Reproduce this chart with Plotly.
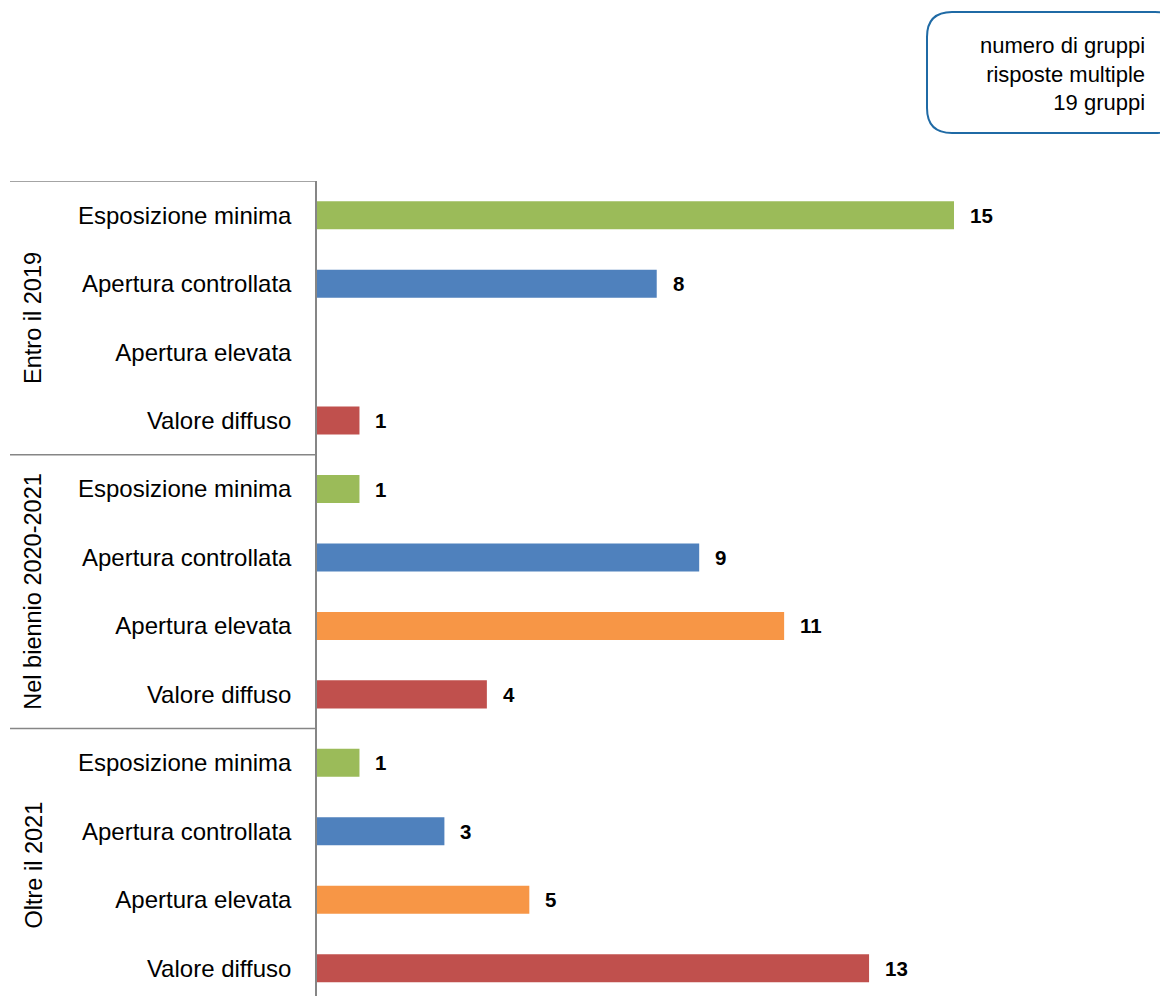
import plotly.graph_objects as go

# Survey answers: number of groups choosing each approach, per time horizon
groups = ["Entro il 2019", "Nel biennio 2020-2021", "Oltre il 2021"]
categories = ["Esposizione minima", "Apertura controllata", "Apertura elevata", "Valore diffuso"]
values_2019 = [15, 8, None, 1]
values_2020_2021 = [1, 9, 11, 4]
values_oltre_2021 = [1, 3, 5, 13]
category_colors = ["#9BBB59", "#4F81BD", "#F79646", "#C0504D"]
box_lines = ["numero di gruppi", "risposte multiple", "19 gruppi"]

series = [values_2019, values_2020_2021, values_oltre_2021]

W, H = 1160, 996
M_L, M_R, M_T, M_B = 317, 0, 181, 0
plot_w = W - M_L - M_R
plot_h = H - M_T - M_B
px_per_unit = 637 / 15.0
x_max = plot_w / px_per_unit
row_px = 68.45
y_bottom = -0.5 + plot_h / row_px

FONT = "Liberation Sans"
AXIS_GRAY = "#868686"

ys, xs, cols, tick_text = [], [], [], []
row = 0
for g, vals in zip(groups, series):
    for cat, v, c in zip(categories, vals, category_colors):
        ys.append(row)
        xs.append(v)
        cols.append(c)
        tick_text.append(cat)
        row += 1

fig = go.Figure()
fig.add_trace(go.Bar(
    x=xs, y=ys, orientation="h",
    marker=dict(color=cols, line=dict(width=0)),
    width=0.41,
    hoverinfo="x+y",
))

# value labels next to each bar
for yv, xv in zip(ys, xs):
    if xv is None:
        continue
    fig.add_annotation(
        x=xv, y=yv, xref="x", yref="y",
        text=f"<b>{xv}</b>", showarrow=False,
        xanchor="left", yanchor="middle", xshift=14,
        font=dict(family=FONT, size=20.5, color="#000000"),
    )

def px_to_paper_x(px):
    return (px - M_L) / plot_w

def px_to_paper_y(py):
    return (H - M_B - py) / plot_h

# group separators on the left of the axis
for yb in [-0.5, 3.5, 7.5]:
    fig.add_shape(
        type="line", xref="paper", yref="y",
        x0=px_to_paper_x(10), x1=0, y0=yb, y1=yb,
        line=dict(color=AXIS_GRAY, width=1.5),
    )

# rotated group titles
for i, g in enumerate(groups):
    fig.add_annotation(
        x=px_to_paper_x(33), y=i * 4 + 1.5, xref="paper", yref="y",
        text=g, textangle=-90, showarrow=False,
        xanchor="center", yanchor="middle",
        font=dict(family=FONT, size=23.5, color="#000000"),
    )

# rounded note box in the top-right corner
bx0, bx1 = px_to_paper_x(927), px_to_paper_x(1180)
by0, by1 = px_to_paper_y(133), px_to_paper_y(12)
rx = 25 / plot_w
ry = 25 / plot_h
path = (
    f"M {bx0 + rx},{by1} L {bx1 - rx},{by1} Q {bx1},{by1} {bx1},{by1 - ry} "
    f"L {bx1},{by0 + ry} Q {bx1},{by0} {bx1 - rx},{by0} "
    f"L {bx0 + rx},{by0} Q {bx0},{by0} {bx0},{by0 + ry} "
    f"L {bx0},{by1 - ry} Q {bx0},{by1} {bx0 + rx},{by1} Z"
)
fig.add_shape(type="path", xref="paper", yref="paper", path=path,
              line=dict(color="#1F6AA5", width=2), fillcolor="rgba(0,0,0,0)")
fig.add_annotation(
    x=px_to_paper_x(1147), y=px_to_paper_y(74), xref="paper", yref="paper",
    text="<br>".join(box_lines), showarrow=False, align="right",
    xanchor="right", yanchor="middle",
    font=dict(family=FONT, size=22, color="#000000"),
)

fig.update_layout(
    width=W, height=H,
    margin=dict(l=M_L, r=M_R, t=M_T, b=M_B, pad=0),
    paper_bgcolor="white", plot_bgcolor="white",
    showlegend=False,
    font=dict(family=FONT, color="#000000"),
    xaxis=dict(range=[0, x_max], visible=False, fixedrange=True),
    yaxis=dict(
        range=[y_bottom, -0.5],
        tickvals=ys, ticktext=tick_text,
        showline=True, linecolor=AXIS_GRAY, linewidth=1.5,
        showgrid=False, zeroline=False, ticks="",
        ticklabelstandoff=19,
        tickfont=dict(family=FONT, size=24, color="#000000"),
        fixedrange=True,
    ),
)

fig.write_html("out.html")
